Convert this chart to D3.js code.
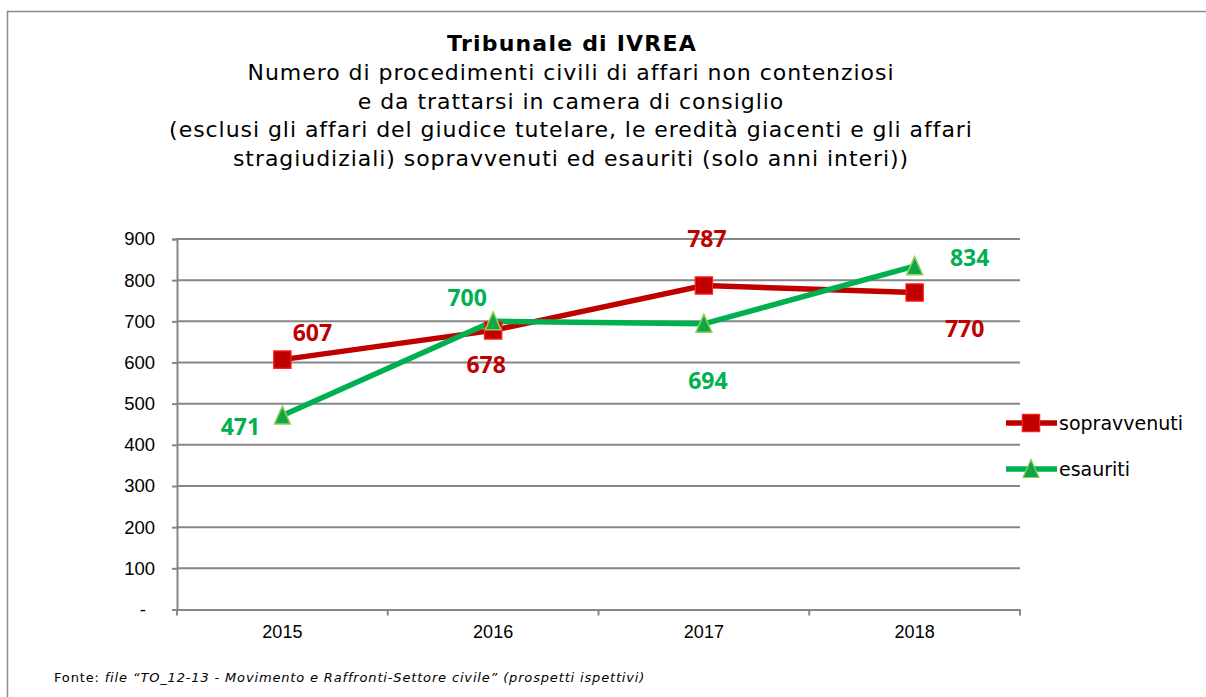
<!DOCTYPE html>
<html>
<head>
<meta charset="utf-8">
<script src="https://cdn.jsdelivr.net/npm/d3@7"></script>
<style>
  body { margin: 0; background: #fff; }
  svg { display: block; }
</style>
</head>
<body>
<script>
// data
var years = ["2015", "2016", "2017", "2018"];
var sopravvenuti = [607, 678, 787, 770];
var esauriti = [471, 700, 694, 834];
var yTicks = [0, 100, 200, 300, 400, 500, 600, 700, 800, 900];

var titleLines = [
  "Numero di procedimenti civili di affari non contenziosi",
  "e da trattarsi in camera di consiglio",
  "(esclusi gli affari del giudice tutelare, le eredità giacenti e gli affari",
  "stragiudiziali) sopravvenuti ed esauriti (solo anni interi))"
];

// label placement (offset from each point)
var sopOffsets = [[30, -27], [-7, 35], [3, -47], [50, 36]];
var esaOffsets = [[-42, 11], [-26, -23], [4, 57], [55, -8]];

var red = "#C00000", green = "#00B050";
var titleFont = "DejaVu Sans, Verdana, sans-serif";
var axisFont = "Liberation Sans, Arial, sans-serif";

var svg = d3.select("body").append("svg")
    .attr("width", 1206)
    .attr("height", 697);

// outer frame
svg.append("rect")
    .attr("x", 7.5).attr("y", 11.5)
    .attr("width", 1220).attr("height", 720)
    .attr("fill", "none")
    .attr("stroke", "#8c8c8c")
    .attr("stroke-width", 1.5);

// titles
svg.append("text")
    .attr("x", 572).attr("y", 51)
    .attr("text-anchor", "middle")
    .style("font-family", titleFont)
    .style("font-weight", "bold")
    .style("font-size", "22px")
    .style("letter-spacing", "1.2px")
    .text("Tribunale di IVREA");

svg.selectAll("text.sub")
    .data(titleLines)
    .enter().append("text")
    .attr("class", "sub")
    .attr("x", 571)
    .attr("y", function(d, i) { return 80 + i * 28.5; })
    .attr("text-anchor", "middle")
    .style("font-family", titleFont)
    .style("font-size", "22px")
    .style("letter-spacing", "0.95px")
    .text(function(d) { return d; });

// scales
var x = d3.scaleBand().domain(years).range([177, 1020]).padding(0);
var y = d3.scaleLinear().domain([0, 900]).range([609.5, 239]);
var cx = function(d, i) { return x(years[i]) + x.bandwidth() / 2; };

// gridlines
svg.selectAll("line.grid")
    .data(yTicks.slice(1))
    .enter().append("line")
    .attr("class", "grid")
    .attr("x1", 177).attr("x2", 1020)
    .attr("y1", function(d) { return y(d); })
    .attr("y2", function(d) { return y(d); })
    .attr("stroke", "#868686")
    .attr("stroke-width", 2);

// y axis
var yAxis = svg.append("g")
    .attr("transform", "translate(177,0)")
    .call(d3.axisLeft(y).tickValues(yTicks).tickSize(5).tickPadding(17)
      .tickFormat(function(d) { return d === 0 ? "-" : d; }));
yAxis.select(".domain").attr("stroke", "#868686").attr("stroke-width", 2);
yAxis.selectAll(".tick line").attr("stroke", "#868686").attr("stroke-width", 2);
yAxis.selectAll("text")
    .style("font-family", axisFont)
    .style("font-size", "18.5px")
    .attr("fill", "#000")
    .attr("dx", function(d) { return d === 0 ? -9 : 0; });

// x axis
var xAxis = svg.append("g")
    .attr("transform", "translate(0," + y(0) + ")")
    .call(d3.axisBottom(x).tickSize(0).tickPadding(16));
xAxis.select(".domain").attr("stroke", "#868686").attr("stroke-width", 2);
xAxis.selectAll("text")
    .style("font-family", axisFont)
    .style("font-size", "18px")
    .attr("fill", "#000");
svg.selectAll("line.xtick")
    .data(years.concat(["end"]))
    .enter().append("line")
    .attr("class", "xtick")
    .attr("x1", function(d, i) { return 177 + i * x.bandwidth(); })
    .attr("x2", function(d, i) { return 177 + i * x.bandwidth(); })
    .attr("y1", y(0)).attr("y2", y(0) + 6)
    .attr("stroke", "#868686")
    .attr("stroke-width", 2);

// lines
var line = d3.line().x(cx).y(function(d) { return y(d); });

svg.append("path").datum(sopravvenuti)
    .attr("d", line)
    .attr("fill", "none")
    .attr("stroke", red)
    .attr("stroke-width", 5.5);

svg.append("path").datum(esauriti)
    .attr("d", line)
    .attr("fill", "none")
    .attr("stroke", green)
    .attr("stroke-width", 5.5);

// markers
var square = d3.symbol().type(d3.symbolSquare).size(300);
var tri = d3.symbol().type({
  draw: function(ctx) {
    ctx.moveTo(0, -9.5);
    ctx.lineTo(8, 8.5);
    ctx.lineTo(-8, 8.5);
    ctx.closePath();
  }
});

svg.selectAll("path.sq")
    .data(sopravvenuti)
    .enter().append("path")
    .attr("class", "sq")
    .attr("d", square)
    .attr("transform", function(d, i) { return "translate(" + cx(d, i) + "," + y(d) + ")"; })
    .attr("fill", red)
    .attr("stroke", "#FF2020")
    .attr("stroke-width", 1.2);

svg.selectAll("path.tr")
    .data(esauriti)
    .enter().append("path")
    .attr("class", "tr")
    .attr("d", tri)
    .attr("transform", function(d, i) { return "translate(" + cx(d, i) + "," + y(d) + ")"; })
    .attr("fill", "#0FA548")
    .attr("stroke", "#92D050")
    .attr("stroke-width", 1.5);

// value labels
function labels(data, offs, color, cls) {
  svg.selectAll("text." + cls)
      .data(data)
      .enter().append("text")
      .attr("class", cls)
      .attr("x", function(d, i) { return cx(d, i) + offs[i][0]; })
      .attr("y", function(d, i) { return y(d) + offs[i][1]; })
      .attr("dy", "0.35em")
      .attr("text-anchor", "middle")
      .style("font-family", "Open Sans, Liberation Sans, sans-serif")
      .style("font-weight", "bold")
      .style("font-size", "23px")
      .attr("fill", color)
      .text(function(d) { return d; });
}
labels(sopravvenuti, sopOffsets, red, "lsop");
labels(esauriti, esaOffsets, green, "lesa");

// legend
var legend = [
  { name: "sopravvenuti", color: red, sym: square, fill: red, stroke: "#FF2020" },
  { name: "esauriti", color: green, sym: tri, fill: "#0FA548", stroke: "#92D050" }
];
var lg = svg.selectAll("g.leg")
    .data(legend)
    .enter().append("g")
    .attr("class", "leg")
    .attr("transform", function(d, i) { return "translate(1006," + (423 + i * 46) + ")"; });
lg.append("line")
    .attr("x1", 0).attr("x2", 51)
    .attr("stroke", function(d) { return d.color; })
    .attr("stroke-width", 5.5);
lg.append("path")
    .attr("d", function(d) { return d.sym(); })
    .attr("transform", "translate(25,0)")
    .attr("fill", function(d) { return d.fill; })
    .attr("stroke", function(d) { return d.stroke; })
    .attr("stroke-width", 1.2);
lg.append("text")
    .attr("x", 53)
    .attr("dy", "0.36em")
    .style("font-family", titleFont)
    .style("font-size", "19px")
    .text(function(d) { return d.name; });

// source note
var src = svg.append("text")
    .attr("x", 54).attr("y", 682)
    .style("font-family", titleFont)
    .style("font-size", "13px")
    .style("letter-spacing", "0.84px");
src.append("tspan").text("Fonte: ");
src.append("tspan")
    .style("font-style", "italic")
    .text("file \u201cTO_12-13 - Movimento e Raffronti-Settore civile\u201d (prospetti ispettivi)");
</script>
</body>
</html>
